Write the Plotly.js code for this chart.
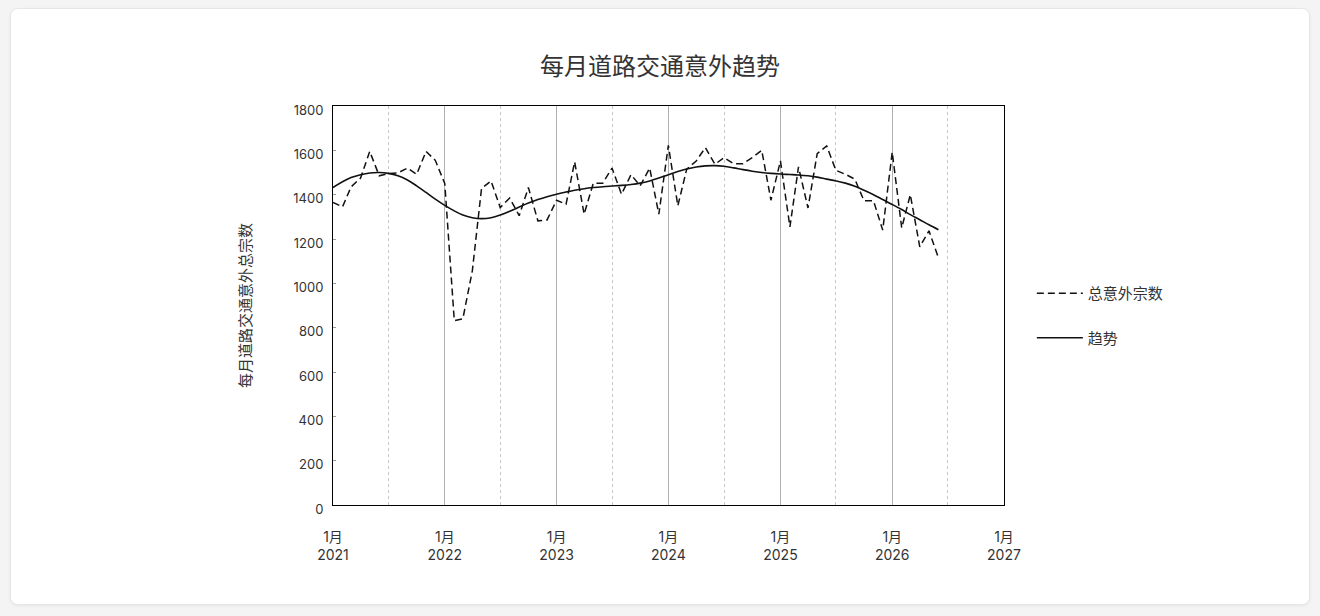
<!DOCTYPE html>
<html>
<head>
<meta charset="utf-8">
<script src="https://cdn.plot.ly/plotly-3.0.1.min.js"></script>
<style>
  html, body { margin: 0; padding: 0; background: #f4f4f4; }
  .card {
    position: absolute; left: 10px; top: 8px; width: 1300px; height: 597px;
    background: #fff; border: 1px solid #e6e6e6; border-radius: 8px;
    box-shadow: 0 1px 3px rgba(0,0,0,0.06); box-sizing: border-box; overflow: hidden;
  }
  #chart { width: 1300px; height: 597px; position: absolute; left: -1px; top: -1px; }
</style>
</head>
<body>
<div class="card"><div id="chart"></div></div>
<script>
    // --- DATA ---
    const months = [
        '2021-01','2021-02','2021-03','2021-04','2021-05','2021-06','2021-07','2021-08','2021-09','2021-10','2021-11','2021-12',
        '2022-01','2022-02','2022-03','2022-04','2022-05','2022-06','2022-07','2022-08','2022-09','2022-10','2022-11','2022-12',
        '2023-01','2023-02','2023-03','2023-04','2023-05','2023-06','2023-07','2023-08','2023-09','2023-10','2023-11','2023-12',
        '2024-01','2024-02','2024-03','2024-04','2024-05','2024-06','2024-07','2024-08','2024-09','2024-10','2024-11','2024-12',
        '2025-01','2025-02','2025-03','2025-04','2025-05','2025-06','2025-07','2025-08','2025-09','2025-10','2025-11','2025-12',
        '2026-01','2026-02','2026-03','2026-04','2026-05','2026-06'
    ];

    const totalAccidents = [
        1365, 1345, 1435, 1475, 1595, 1485, 1495, 1498, 1520, 1492, 1595, 1555,
        1450,  832,  840, 1057, 1428, 1462, 1342, 1385, 1305, 1432, 1282, 1286,
        1375, 1357, 1548, 1312, 1452, 1452, 1520, 1402, 1490, 1440, 1520, 1312,
        1622, 1350, 1515, 1552, 1612, 1537, 1567, 1540, 1540, 1567, 1600, 1375,
        1552, 1255, 1525, 1340, 1585, 1620, 1510, 1492, 1470, 1372, 1372, 1240,
        1592, 1250, 1400, 1165, 1237, 1115
    ];

    const trend = [
        1432, 1458, 1477, 1490, 1498, 1500, 1496, 1485, 1466, 1440, 1410, 1380,
        1352, 1327, 1308, 1296, 1292, 1296, 1308, 1325, 1344, 1362, 1378, 1391,
        1402, 1412, 1420, 1427, 1432, 1436, 1439, 1442, 1446, 1452, 1462, 1475,
        1490, 1504, 1516, 1525, 1530, 1531, 1528, 1521, 1513, 1506, 1500, 1496,
        1493, 1491, 1489, 1485, 1479, 1470, 1462, 1452, 1438, 1420, 1400, 1378,
        1356, 1333, 1310, 1287, 1264, 1242
    ];

    const seriesNames = ['总意外宗数', '趋势'];
    const yTicks = [0, 200, 400, 600, 800, 1000, 1200, 1400, 1600, 1800];

    const fontFamily = "Inter, 'Noto Sans CJK SC', 'Noto Sans', sans-serif";

    // --- TRACES ---
    const traceTotal = {
        x: months, y: totalAccidents, name: seriesNames[0],
        type: 'scatter', mode: 'lines',
        line: { color: '#111', width: 1.5, dash: '7px,4px' },
        legendgroup: 'a'
    };
    const traceTrend = {
        x: months, y: trend, name: seriesNames[1],
        type: 'scatter', mode: 'lines',
        line: { color: '#111', width: 1.6, shape: 'spline' },
        legendgroup: 'b'
    };

    const layout = {
        width: 1300, height: 597,
        paper_bgcolor: '#fff', plot_bgcolor: '#fff',
        font: { family: fontFamily, color: '#333', size: 13 },
        margin: { l: 323, r: 306, t: 98, b: 100 },
        title: {
            text: '每月道路交通意外趋势',
            font: { size: 24, color: '#333', family: fontFamily },
            x: 0.5, xanchor: 'center', y: 0.902, yanchor: 'middle', yref: 'container'
        },
        showlegend: true,
        legend: {
            x: 1.0415, xanchor: 'left', y: 0.475, yanchor: 'middle',
            font: { size: 15, color: '#333' },
            traceorder: 'grouped', tracegroupgap: 22, itemwidth: 46
        },
        xaxis: {
            type: 'date',
            range: ['2021-01-01', '2027-01-01'],
            dtick: 'M12', tick0: '2021-01-01',
            tickformat: '%-m月<br>%Y',
            ticks: '', ticklabelstandoff: 19,
            showgrid: true, gridcolor: '#b0b0b0', gridwidth: 1,
            minor: { dtick: 'M6', tick0: '2021-07-01', showgrid: true, gridcolor: '#c8c8c8', griddash: 'dot', gridwidth: 1 },
            showline: true, linecolor: '#000', linewidth: 1, mirror: true,
            zeroline: false,
            tickfont: { size: 14, color: '#333' }
        },
        yaxis: {
            range: [0, 1800],
            tickvals: yTicks,
            ticks: 'inside', ticklen: 3, tickcolor: '#999', ticklabelstandoff: 6, ticklabelshift: 4,
            showgrid: false, zeroline: false,
            showline: true, linecolor: '#000', linewidth: 1, mirror: true,
            tickfont: { size: 13, color: '#333' },
            title: { text: '每月道路交通意外总宗数', font: { size: 15, color: '#333' }, standoff: 38 }
        }
    };

    Plotly.newPlot('chart', [traceTotal, traceTrend], layout, { displayModeBar: false, responsive: false });
</script>
</body>
</html>
